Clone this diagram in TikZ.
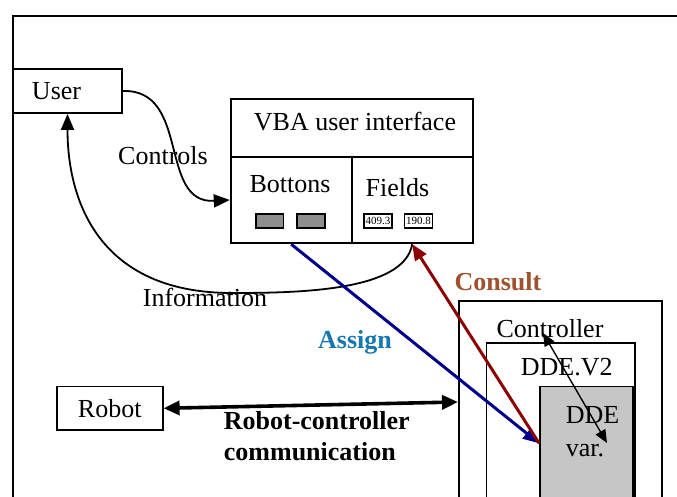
\documentclass[tikz,border=0pt]{standalone}
\usepackage{fontspec}
\setmainfont{Liberation Serif}
\usepackage{xcolor}
\definecolor{dnxanh}{HTML}{00008C}
\definecolor{dndo}{HTML}{8C0000}
\definecolor{chuxanh}{HTML}{1777B0}
\definecolor{chunau}{HTML}{A0522D}
\definecolor{dnxam}{HTML}{C6C6C6}
\definecolor{nutxam}{HTML}{8E8E8E}
\usetikzlibrary{arrows.meta,positioning}
\begin{document}
\begin{tikzpicture}[x=0.5pt,y=-0.5pt,line width=0.9pt,
		font=\fontsize{13}{15}\selectfont,
		>={Triangle[length=8pt,width=6.5pt]}]%
		\tikzset{
			hop/.style={draw,rectangle,inner sep=0pt},
			chu/.style={inner sep=0pt},
			chuphu/.style={inner sep=0pt,font=\fontsize{5.5}{6}\selectfont},
			chudam/.style={inner sep=0pt,font=\bfseries\fontsize{13}{15.5}\selectfont}
		}
		\path[use as bounding box,clip] (0,0) rectangle (677,497);
		\draw (13,497) |- (677,16);
		%% cac hop
		\node[hop,minimum width=54.5pt,minimum height=22pt,text width=35.5pt,inner xsep=9.5pt,align=left] (user) at (67.5,91) {User};
		\node[hop,minimum width=53pt,minimum height=21.7pt] (robot) at (109.7,408.3) {Robot};
		\node[hop,minimum width=121pt,minimum height=28.7pt] (vba) at (351.7,128) {};
		\node[hop,minimum width=60.5pt,minimum height=43.3pt] (botcell) at (291.2,200) {};
		\node[hop,minimum width=60.5pt,minimum height=43.3pt] (fieldcell) at (412.2,200) {};
		\node[chu] (vbatxt) at (355,122) {VBA user interface};
		\node[chu] (bottxt) at (290,184) {Bottons};
		\node[chu] (fieldtxt) at (397.5,188) {Fields};
		\foreach \i/\x in{1/269.7,2/310.9}{%
			\node[hop,fill=nutxam,minimum width=13.8pt,minimum height=7.2pt] (nut\i) at (\x,221.2) {};
		}
		\foreach \i/\x/\v in{1/378/409.3,2/418.5/190.8}{%
			\node[hop,chuphu,minimum width=14pt,minimum height=7pt] (o\i) at (\x,221.2) {\v};
		}
		%%
		\node[hop,minimum width=101.4pt,minimum height=101.3pt] (ctrl) at (560.3,402) {};
		\node[hop,minimum width=74.2pt,minimum height=80pt] (ddev2) at (560.8,423.3) {};
		\node[hop,fill=dnxam,minimum width=46.5pt,minimum height=56.7pt] (ddevar) at (586.5,443.3) {};
		\node[chu] (ctrltxt) at (550,329) {Controller};
		\node[chu] (v2txt) at (566.7,367) {DDE.V2};
		\node[chu,align=left,anchor=west,font=\fontsize{13}{16.5}\selectfont] (vartxt) at (565,432) {DDE\\var.};
		%% nhan
		\node[chu] (controls) at (163,156) {Controls};
		\node[chu] (info) at (205,297) {Information};
		\node[chudam,text=chuxanh] (assign) at (355,342) {Assign};
		\node[chudam,text=chunau] (consult) at (498,282) {Consult};
		\node[chudam,align=left,anchor=west] (comm) at (223,436) {Robot-controller\\communication};
		%% mui ten
		\coordinate (infobend) at (232,293);
		\coordinate (ctrlpt) at (543,333);
		\coordinate (varpt) at (607,443);
		\draw[->] (user.east) .. controls +(68,-2) and +(-72,4) .. (botcell.west);
		\draw[->] (fieldcell.south) .. controls +(-8,47) and +(67,0) .. (infobend)
			.. controls +(-133,0) and +(0,87) .. (user.south);
		\draw[->,dnxanh,line width=1.5pt] (botcell.south) -- (ddevar.west);
		\draw[->,dndo,line width=1.5pt] (ddevar.west) -- (fieldcell.south);
		\draw[<->,line width=1.8pt,>={Triangle[length=8pt,width=7pt]}] (robot.east) -- (ctrl.west);
		\draw[<->,line width=0.7pt,>={Triangle[length=6.5pt,width=5.5pt]}] (ctrlpt) -- (varpt);
	\end{tikzpicture}
\end{document}
